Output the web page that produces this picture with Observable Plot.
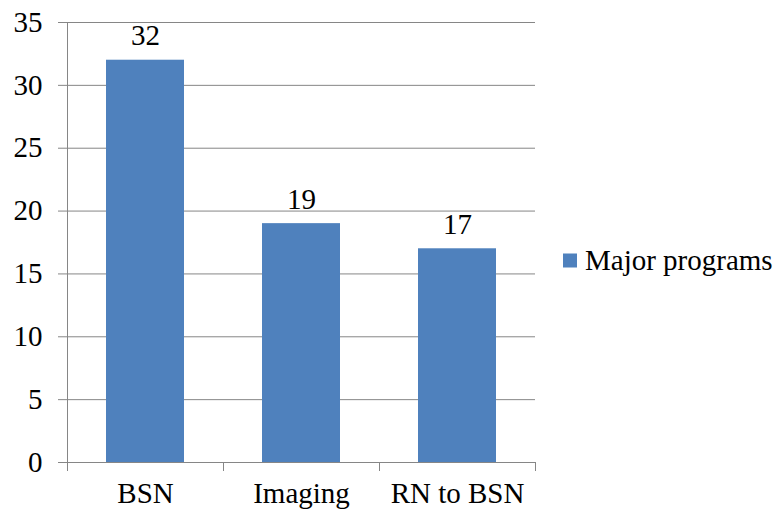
<!DOCTYPE html>
<html>
<head>
<meta charset="utf-8">
<script src="https://cdn.jsdelivr.net/npm/d3@7"></script>
<script src="https://cdn.jsdelivr.net/npm/@observablehq/plot@0.6"></script>
<style>
  html, body { margin: 0; padding: 0; background: #fff; font-family: "Liberation Serif", "Times New Roman", serif; }
  #wrap { position: relative; width: 781px; height: 511px; overflow: hidden; }
  #legend {
    position: absolute; left: 563px; top: 260px; transform: translateY(-50%);
    display: flex; align-items: center; gap: 8px;
    font-family: "Liberation Serif", "Times New Roman", serif; font-size: 29px; line-height: 1; color: #000;
    white-space: nowrap;
  }
  #legend .sw { width: 14px; height: 14px; background: #4F81BD; }
</style>
</head>
<body>
<div id="wrap">
  <div id="chart"></div>
  <div id="legend"><span class="sw"></span><span id="legendText"></span></div>
</div>
<script>
const categories = ["BSN", "Imaging", "RN to BSN"];
const values = [32, 19, 17];
const yTicks = [0, 5, 10, 15, 20, 25, 30, 35];
const seriesName = "Major programs";

const data = categories.map((c, i) => ({ category: c, value: values[i], i }));
const barColor = "#4F81BD";
const gridColor = "#868686";

const chart = Plot.plot({
  width: 781,
  height: 511,
  marginLeft: 67,
  marginRight: 246,
  marginTop: 22,
  marginBottom: 49,
  style: { fontFamily: "Liberation Serif, Times New Roman, serif", fontSize: "29px", color: "#000", background: "#fff", overflow: "visible" },
  x: { domain: [0, categories.length] },
  y: { domain: [0, 35] },
  marks: [
    Plot.gridY(yTicks, { stroke: gridColor, strokeOpacity: 1 }),
    Plot.axisY(yTicks, { tickSize: 9, tickPadding: 16, stroke: gridColor, fill: "#000", fontSize: 29, label: null }),
    Plot.rectY(data, { x1: d => d.i + 0.25, x2: d => d.i + 0.75, y: "value", fill: barColor }),
    Plot.ruleX([0], { stroke: gridColor }),
    Plot.ruleY([0], { stroke: gridColor }),
    Plot.axisX(d3.range(categories.length + 1), { tickSize: 9, tickFormat: () => "", stroke: gridColor, label: null }),
    Plot.axisX(data.map(d => d.i + 0.5), { tickSize: 0, tickPadding: 20, tickFormat: v => categories[Math.floor(v)], fill: "#000", fontSize: 29, label: null }),
    Plot.text(data, { x: d => d.i + 0.5, y: "value", text: d => String(d.value), lineAnchor: "bottom", dy: -15, fontSize: 29, fill: "#000" })
  ]
});
document.getElementById("chart").appendChild(chart);
document.getElementById("legendText").textContent = seriesName;
</script>
</body>
</html>
